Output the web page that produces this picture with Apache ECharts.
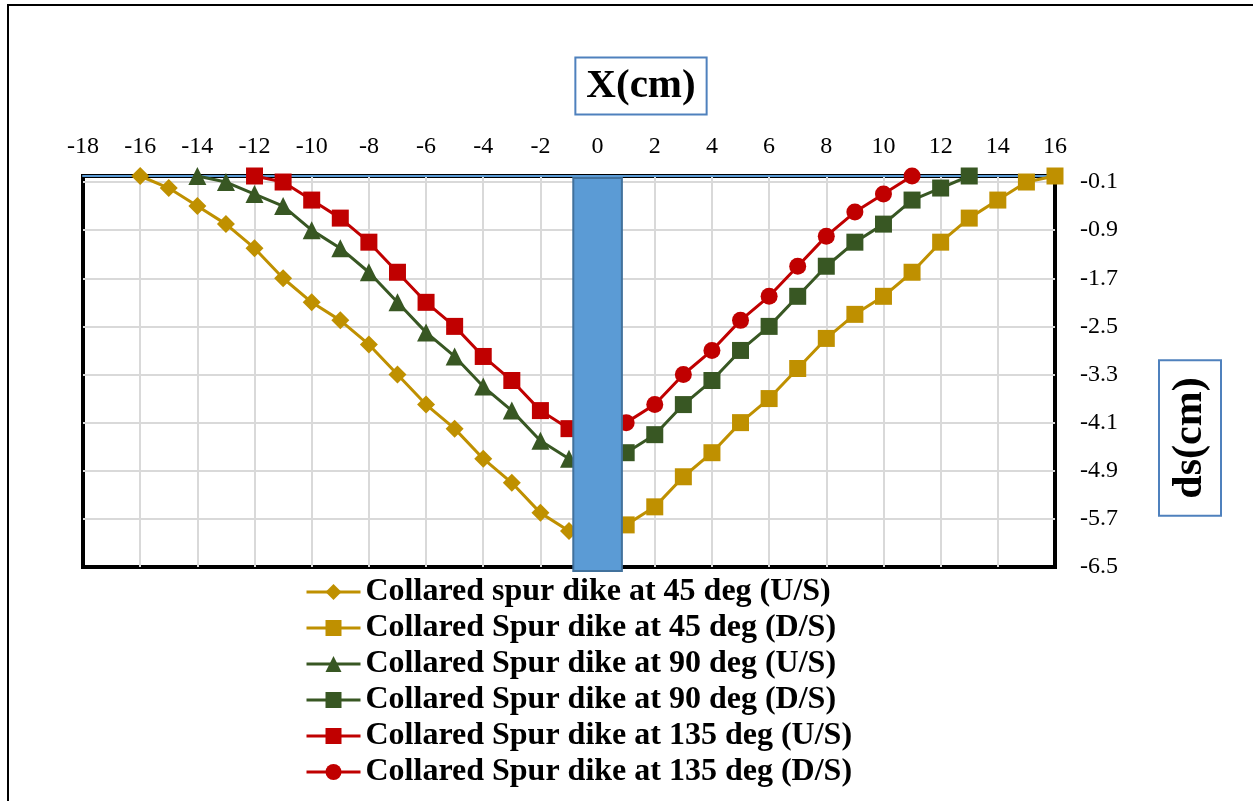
<!DOCTYPE html>
<html>
<head>
<meta charset="utf-8">
<script src="https://cdn.jsdelivr.net/npm/echarts@6/dist/echarts.min.js"></script>
<style>
  html, body { margin: 0; padding: 0; background: #fff; }
  #chart { width: 1253px; height: 801px; }
</style>
</head>
<body>
<div id="chart"></div>
<script>
// x positions (cm) and scour depth ds (cm)
const x45us = [-16, -15, -14, -13, -12, -11, -10, -9, -8, -7, -6, -5, -4, -3, -2, -1];
const ds45us = [0, -0.2, -0.5, -0.8, -1.2, -1.7, -2.1, -2.4, -2.8, -3.3, -3.8, -4.2, -4.7, -5.1, -5.6, -5.9];

const x45ds = [1, 2, 3, 4, 5, 6, 7, 8, 9, 10, 11, 12, 13, 14, 15, 16];
const ds45ds = [-5.8, -5.5, -5.0, -4.6, -4.1, -3.7, -3.2, -2.7, -2.3, -2.0, -1.6, -1.1, -0.7, -0.4, -0.1, 0];

const x90us = [-14, -13, -12, -11, -10, -9, -8, -7, -6, -5, -4, -3, -2, -1];
const ds90us = [0, -0.1, -0.3, -0.5, -0.9, -1.2, -1.6, -2.1, -2.6, -3.0, -3.5, -3.9, -4.4, -4.7];

const x90ds = [1, 2, 3, 4, 5, 6, 7, 8, 9, 10, 11, 12, 13];
const ds90ds = [-4.6, -4.3, -3.8, -3.4, -2.9, -2.5, -2.0, -1.5, -1.1, -0.8, -0.4, -0.2, 0];

const x135us = [-12, -11, -10, -9, -8, -7, -6, -5, -4, -3, -2, -1];
const ds135us = [0, -0.1, -0.4, -0.7, -1.1, -1.6, -2.1, -2.5, -3.0, -3.4, -3.9, -4.2];

const x135ds = [1, 2, 3, 4, 5, 6, 7, 8, 9, 10, 11];
const ds135ds = [-4.1, -3.8, -3.3, -2.9, -2.4, -2.0, -1.5, -1.0, -0.6, -0.3, 0];

// spur dike extent along x (cm)
const dikeExtent = [-0.85, 0.85];

const seriesNames = [
  "Collared spur dike at 45 deg (U/S)",
  "Collared Spur dike at 45 deg (D/S)",
  "Collared Spur dike at 90 deg (U/S)",
  "Collared Spur dike at 90 deg (D/S)",
  "Collared Spur dike at 135 deg (U/S)",
  "Collared Spur dike at 135 deg (D/S)",
];

const GOLD = "#BF9000";
const GREEN = "#385723";
const RED = "#C00000";
const FONT = "'Liberation Serif', 'Times New Roman', serif";

function pairs(xs, ys) {
  return xs.map((x, i) => [x, ys[i]]);
}

function lineSeries(name, xs, ys, color, symbol, size) {
  return {
    name: name,
    type: "line",
    data: pairs(xs, ys),
    symbol: symbol,
    symbolSize: size,
    clip: false,
    z: 5,
    lineStyle: { color: color, width: 3 },
    itemStyle: { color: color },
  };
}

const chart = echarts.init(document.getElementById("chart"));
const option = {
  animation: false,
  backgroundColor: "#fff",
  grid: {
    left: 83,
    right: 198,
    top: 176,
    bottom: 234,
    show: true,
    borderColor: "#000",
    borderWidth: 4,
  },
  xAxis: {
    type: "value",
    position: "top",
    min: -18,
    max: 16,
    interval: 2,
    axisLine: { show: true, lineStyle: { color: "#5B9BD5", width: 2 } },
    axisTick: { show: false },
    axisLabel: { color: "#000", fontSize: 24, fontFamily: FONT, margin: 17 },
    splitLine: {
      show: true,
      showMinLine: false,
      showMaxLine: false,
      lineStyle: { color: "#D9D9D9", width: 2 },
    },
  },
  yAxis: {
    type: "value",
    position: "right",
    min: -6.5,
    max: 0,
    interval: 0.8,
    axisLine: { show: true, lineStyle: { color: "#5B9BD5", width: 2 } },
    axisTick: { show: false },
    axisLabel: {
      color: "#000",
      fontSize: 24,
      fontFamily: FONT,
      margin: 25,
      showMaxLabel: false,
      formatter: (v) => v.toFixed(1),
    },
    splitLine: {
      show: true,
      showMinLine: false,
      showMaxLine: false,
      lineStyle: { color: "#D9D9D9", width: 2 },
    },
  },
  legend: {
    data: seriesNames,
    orient: "vertical",
    left: 305,
    top: 574,
    padding: 0,
    itemWidth: 54,
    itemHeight: 20,
    itemGap: 0,
    lineStyle: { width: 3 },
    textStyle: {
      color: "#000",
      fontSize: 32,
      fontWeight: "bold",
      fontFamily: FONT,
      lineHeight: 36,
    },
  },
  graphic: [
    {
      type: "rect",
      shape: { x: 8, y: 5, width: 1400, height: 1000 },
      style: { fill: "none", stroke: "#000", lineWidth: 2 },
      silent: true,
    },
    {
      type: "text",
      x: 641,
      y: 86,
      style: {
        text: "X(cm)",
        font: "bold 41px " + FONT,
        fill: "#000",
        align: "center",
        verticalAlign: "middle",
        backgroundColor: "#fff",
        borderColor: "#4F81BD",
        borderWidth: 2,
        padding: [7, 10],
      },
    },
    {
      type: "text",
      x: 1190,
      y: 438,
      rotation: Math.PI / 2,
      style: {
        text: "ds(cm)",
        font: "bold 42px " + FONT,
        fill: "#000",
        align: "center",
        verticalAlign: "middle",
        backgroundColor: "#fff",
        borderColor: "#4F81BD",
        borderWidth: 2,
        padding: [9, 16],
      },
    },
  ],
  series: [
    lineSeries(seriesNames[0], x45us, ds45us, GOLD, "diamond", 18),
    lineSeries(seriesNames[1], x45ds, ds45ds, GOLD, "rect", 17),
    lineSeries(seriesNames[2], x90us, ds90us, GREEN, "triangle", 18),
    lineSeries(seriesNames[3], x90ds, ds90ds, GREEN, "rect", 17),
    lineSeries(seriesNames[4], x135us, ds135us, RED, "rect", 17),
    lineSeries(seriesNames[5], x135ds, ds135ds, RED, "circle", 17),
    {
      name: "dike",
      type: "custom",
      z: 10,
      silent: true,
      clip: false,
      data: [dikeExtent],
      encode: { x: [0, 1] },
      renderItem: function (params, api) {
        const p0 = api.coord([api.value(0), 0]);
        const p1 = api.coord([api.value(1), -6.5]);
        return {
          type: "rect",
          shape: { x: p0[0], y: p0[1] + 2, width: p1[0] - p0[0], height: p1[1] - p0[1] + 2 },
          style: { fill: "#5B9BD5", stroke: "#41719C", lineWidth: 2 },
        };
      },
    },
  ],
};
chart.setOption(option);
window.addEventListener("resize", () => {
  chart.resize();
});
</script>
</body>
</html>
